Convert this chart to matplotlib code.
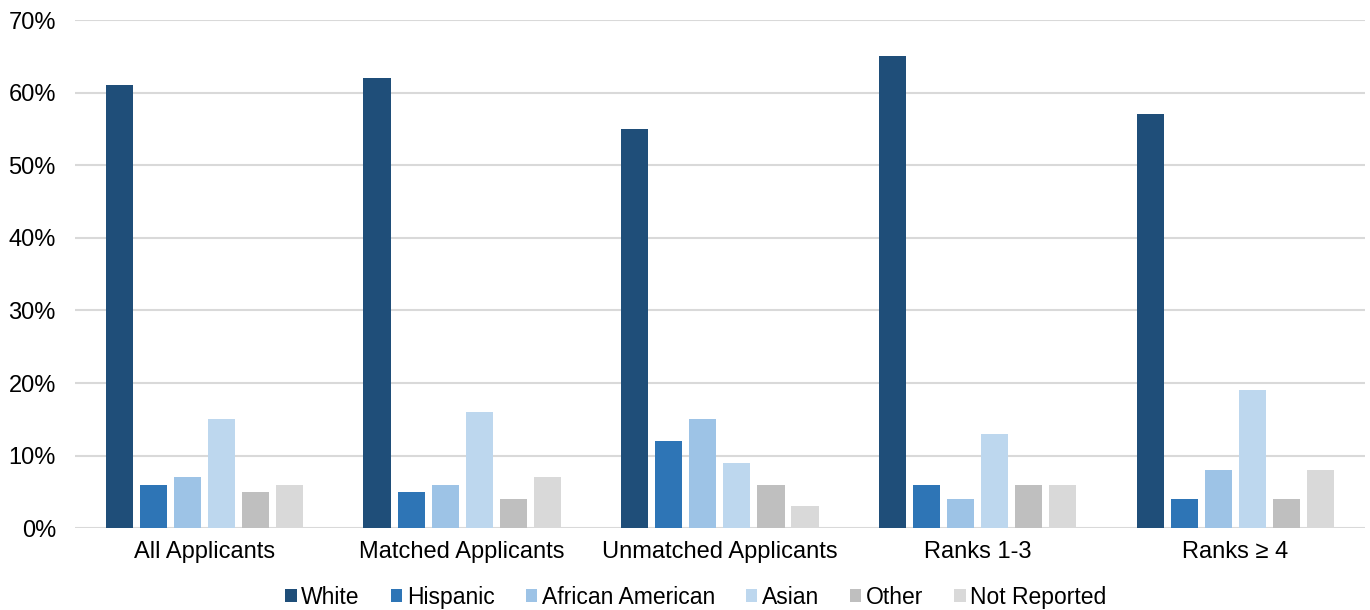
import matplotlib
matplotlib.use("Agg")
import matplotlib.pyplot as plt
import numpy as np
from matplotlib.ticker import PercentFormatter

plt.rcParams['font.family'] = ['Liberation Sans', 'DejaVu Sans']

groups = ['All Applicants', 'Matched Applicants', 'Unmatched Applicants', 'Ranks 1-3', 'Ranks \u2265 4']
white = [61, 62, 55, 65, 57]
hispanic = [6, 5, 12, 6, 4]
african_american = [7, 6, 15, 4, 8]
asian = [15, 16, 9, 13, 19]
other = [5, 4, 6, 6, 4]
not_reported = [6, 7, 3, 6, 8]

series = [('White', white, '#1F4E79'),
          ('Hispanic', hispanic, '#2E75B6'),
          ('African American', african_american, '#9DC3E6'),
          ('Asian', asian, '#BDD7EE'),
          ('Other', other, '#BFBFBF'),
          ('Not Reported', not_reported, '#D9D9D9')]

fig = plt.figure(figsize=(13.7, 6.1), dpi=100)
ax = fig.add_axes([0.055, 0.134, 0.941, 0.833])

x = np.arange(len(groups))
step = 0.132
bw = 0.105
for i, (name, vals, col) in enumerate(series):
    ax.bar(x + (i - 2.5) * step, vals, bw, color=col, label=name, zorder=3)

ax.set_xlim(-0.5, len(groups) - 0.5)
ax.set_ylim(0, 70)
ax.set_yticks(range(0, 71, 10))
ax.yaxis.set_major_formatter(PercentFormatter(decimals=0))
ax.grid(axis='y', color='#D9D9D9', linewidth=1.5, zorder=0)
for s in ax.spines.values():
    s.set_visible(False)
ax.tick_params(axis='both', length=0, labelsize=17, pad=9)
ax.tick_params(axis='y', pad=14)
ax.set_xticks(x)
ax.set_xticklabels(groups)

# legend sits in one row under the category labels
leg = fig.legend(loc='center', bbox_to_anchor=(0.508, 0.021), ncol=6,
                 frameon=False, fontsize=16.5, handlelength=0.5, handleheight=0.5,
                 handletextpad=0.2, columnspacing=1.35, borderpad=0)

fig.savefig('out.png', dpi=100)
